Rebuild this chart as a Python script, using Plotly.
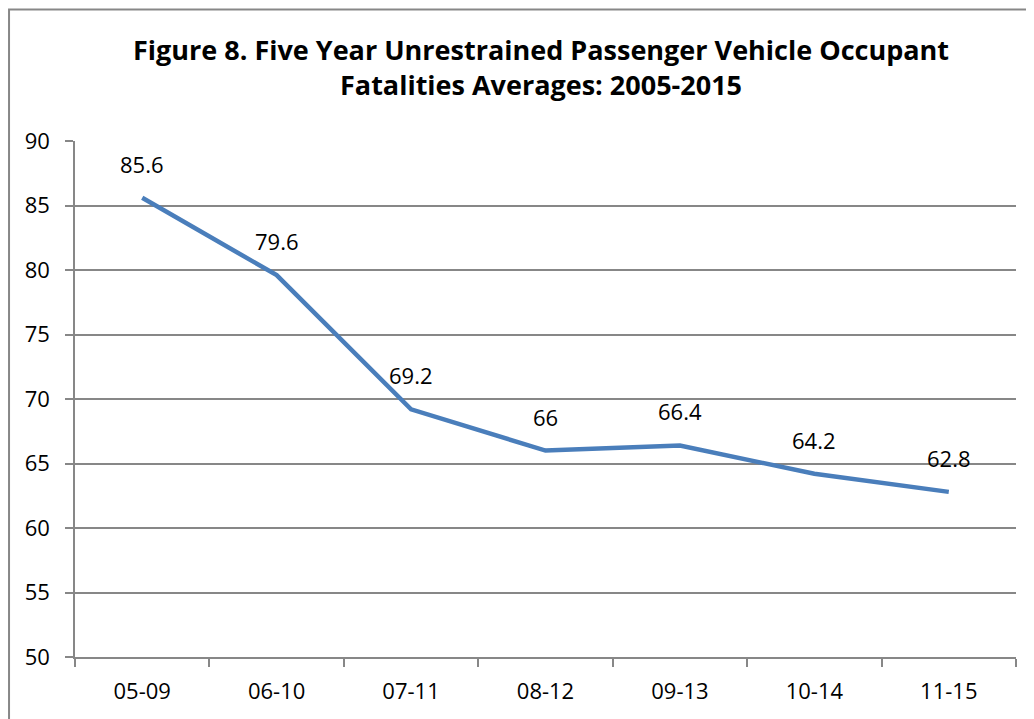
import plotly.graph_objects as go

categories = ["05-09", "06-10", "07-11", "08-12", "09-13", "10-14", "11-15"]
averages = [85.6, 79.6, 69.2, 66, 66.4, 64.2, 62.8]
y_ticks = [50, 55, 60, 65, 70, 75, 80, 85, 90]
title_lines = ["Figure 8. Five Year Unrestrained Passenger Vehicle Occupant",
               "Fatalities Averages: 2005-2015"]

FONT = "Open Sans"
GRID = "#878787"

fig = go.Figure()
fig.add_trace(go.Scatter(
    x=categories, y=averages, mode="lines",
    line=dict(color="#4A7EBB", width=4.5),
    hoverinfo="x+y", showlegend=False,
))

for c, v in zip(categories, averages):
    fig.add_annotation(x=c, y=v, text=f"{v:g}", showarrow=False,
                       yshift=34, font=dict(family=FONT, size=22, color="black"))

fig.add_annotation(xref="paper", yref="paper", x=0.495, y=1.217,
                   xanchor="center", yanchor="top", showarrow=False,
                   text="<b>" + "<br>".join(title_lines) + "</b>",
                   font=dict(family=FONT, size=27, color="black"))

# outer chart border (extends past the right/bottom edges of the picture)
fig.add_shape(type="rect", xref="paper", yref="paper",
              x0=-0.0701, x1=1.05, y0=-0.2, y1=1.2548,
              line=dict(color=GRID, width=2), fillcolor="rgba(0,0,0,0)", layer="below")

fig.update_layout(
    width=1034, height=719,
    margin=dict(l=67, r=26, t=133, b=70),
    paper_bgcolor="white", plot_bgcolor="white",
    font=dict(family=FONT, color="black", size=22),
    xaxis=dict(
        type="category", range=[-0.5, 6.5],
        showgrid=False, showline=True, linecolor=GRID, linewidth=1.5,
        ticks="outside", tickson="boundaries", ticklen=8, tickcolor=GRID, tickwidth=1.5,
        ticklabelstandoff=14, tickfont=dict(family=FONT, size=22, color="black"),
    ),
    yaxis=dict(
        range=[50, 90], tickvals=y_ticks,
        showgrid=True, gridcolor=GRID, gridwidth=1.5,
        showline=True, linecolor=GRID, linewidth=1.5,
        ticks="outside", ticklen=8, tickcolor=GRID, tickwidth=1.5,
        ticklabelstandoff=11, tickfont=dict(family=FONT, size=22, color="black"),
        zeroline=False,
    ),
)

fig.write_html("out.html")
